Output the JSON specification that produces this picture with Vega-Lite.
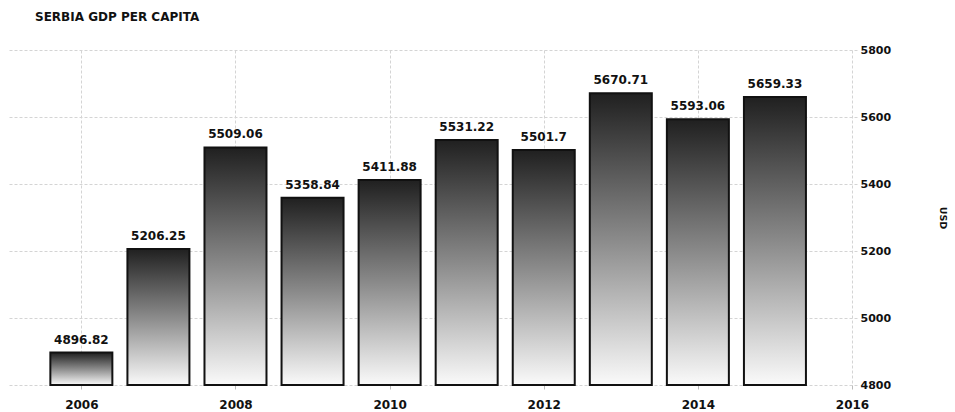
{
  "$schema": "https://vega.github.io/schema/vega-lite/v6.json",
  "autosize": {"type": "none"},
  "width": 850,
  "height": 335,
  "padding": {"left": 7, "top": 50, "right": 98, "bottom": 27},
  "background": "white",
  "title": {
    "text": "SERBIA GDP PER CAPITA",
    "anchor": "start",
    "dx": 28,
    "offset": 20,
    "font": "DejaVu Sans",
    "fontSize": 12,
    "fontWeight": "bold",
    "color": "#111"
  },
  "config": {
    "view": {"stroke": null},
    "axis": {"labelFont": "DejaVu Sans", "titleFont": "DejaVu Sans"}
  },
  "data": {
    "values": [
      {"year": 2006, "gdp": 4896.82, "label": "4896.82"},
      {"year": 2007, "gdp": 5206.25, "label": "5206.25"},
      {"year": 2008, "gdp": 5509.06, "label": "5509.06"},
      {"year": 2009, "gdp": 5358.84, "label": "5358.84"},
      {"year": 2010, "gdp": 5411.88, "label": "5411.88"},
      {"year": 2011, "gdp": 5531.22, "label": "5531.22"},
      {"year": 2012, "gdp": 5501.7, "label": "5501.7"},
      {"year": 2013, "gdp": 5670.71, "label": "5670.71"},
      {"year": 2014, "gdp": 5593.06, "label": "5593.06"},
      {"year": 2015, "gdp": 5659.33, "label": "5659.33"}
    ]
  },
  "encoding": {
    "x": {
      "field": "year",
      "type": "quantitative",
      "scale": {"domain": [2005.1, 2016], "nice": false, "zero": false},
      "axis": {
        "values": [2006, 2008, 2010, 2012, 2014, 2016],
        "format": "d",
        "title": null,
        "domain": false,
        "ticks": true,
        "tickSize": 4,
        "tickColor": "#bbb",
        "labelFlush": false,
        "labelPadding": 10,
        "labelFontSize": 12,
        "labelFontWeight": "bold",
        "labelColor": "#111",
        "grid": true,
        "gridColor": "#d4d4d4",
        "gridDash": [3, 2],
        "gridWidth": 1
      }
    }
  },
  "layer": [
    {
      "mark": {
        "type": "bar",
        "size": 62,
        "stroke": "#111",
        "strokeWidth": 2,
        "fill": {
          "gradient": "linear",
          "x1": 0, "y1": 0, "x2": 0, "y2": 1,
          "stops": [
            {"offset": 0, "color": "#202020"},
            {"offset": 0.5, "color": "#8a8a8a"},
            {"offset": 1, "color": "#fafafa"}
          ]
        }
      },
      "encoding": {
        "y": {
          "field": "gdp",
          "type": "quantitative",
          "scale": {"domain": [4800, 5800], "nice": false, "zero": false},
          "axis": {
            "orient": "right",
            "values": [4800, 5000, 5200, 5400, 5600, 5800],
            "format": "d",
            "title": "USD",
            "titleFontSize": 9.5,
            "titleFontWeight": "bold",
            "titleColor": "#111",
            "titlePadding": 47,
            "domain": false,
            "ticks": false,
            "labelPadding": 3,
            "labelFontSize": 11,
            "labelFontWeight": "bold",
            "labelColor": "#111",
            "grid": true,
            "gridColor": "#d4d4d4",
            "gridDash": [3, 2],
            "gridWidth": 1
          }
        },
        "y2": {"datum": 4800}
      }
    },
    {
      "mark": {
        "type": "text",
        "baseline": "bottom",
        "dy": -6,
        "font": "DejaVu Sans",
        "fontSize": 12,
        "fontWeight": "bold",
        "color": "#111"
      },
      "encoding": {
        "y": {"field": "gdp", "type": "quantitative"},
        "text": {"field": "label"}
      }
    }
  ]
}
